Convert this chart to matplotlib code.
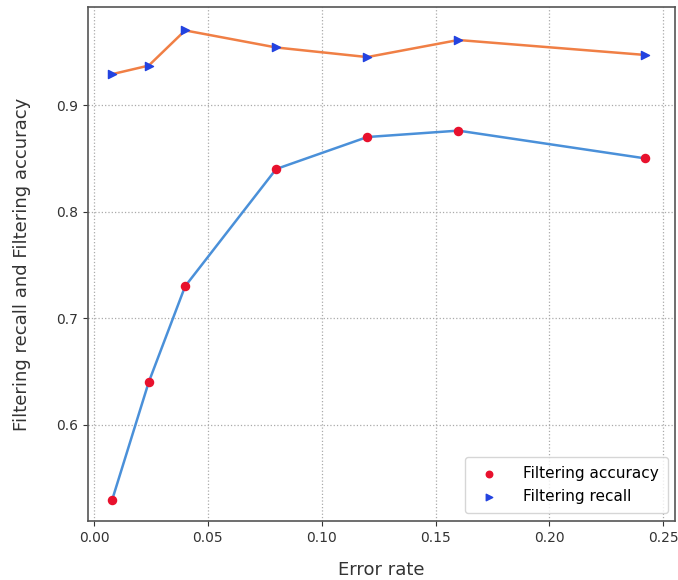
import matplotlib
matplotlib.use("Agg")
import matplotlib.pyplot as plt

# values
error_rate = [0.008, 0.024, 0.04, 0.08, 0.12, 0.16, 0.242]
accuracy = [0.53, 0.64, 0.73, 0.84, 0.87, 0.876, 0.85]
recall = [0.929, 0.937, 0.970, 0.954, 0.945, 0.961, 0.947]

fig = plt.figure(figsize=(6.78, 5.8), dpi=100)
ax = fig.add_axes([0.13, 0.102, 0.866, 0.886])

# lines first, markers on top (legend only shows markers)
ax.plot(error_rate, accuracy, color="#4a90d9", linewidth=1.8, zorder=2)
ax.plot(error_rate, recall, color="#f07f45", linewidth=1.8, zorder=2)
ax.scatter(error_rate, accuracy, color="#e8112d", marker="o", s=34,
           zorder=3, label="Filtering accuracy")
ax.scatter(error_rate, recall, color="#2343e0", marker=">", s=34,
           zorder=3, label="Filtering recall")

ax.set_xlim(-0.0026, 0.2553)
ax.set_ylim(0.510, 0.992)
ax.grid(True, linestyle=":", color="#aaaaaa", linewidth=0.9)
ax.set_axisbelow(True)
ax.set_xticks([0.0, 0.05, 0.10, 0.15, 0.20, 0.25])
ax.set_yticks([0.6, 0.7, 0.8, 0.9])
ax.tick_params(labelsize=10, colors="#333333")
for s in ax.spines.values():
    s.set_color("#555555")
    s.set_linewidth(1.2)

ax.set_xlabel("Error rate", fontsize=13, color="#333333", labelpad=12)
ax.set_ylabel("Filtering recall and Filtering accuracy", fontsize=13,
              color="#333333", labelpad=18)

ax.legend(loc="lower right", fontsize=11, markerscale=0.8,
          handletextpad=1.2, borderpad=0.6)

fig.savefig("out.png", dpi=100)
